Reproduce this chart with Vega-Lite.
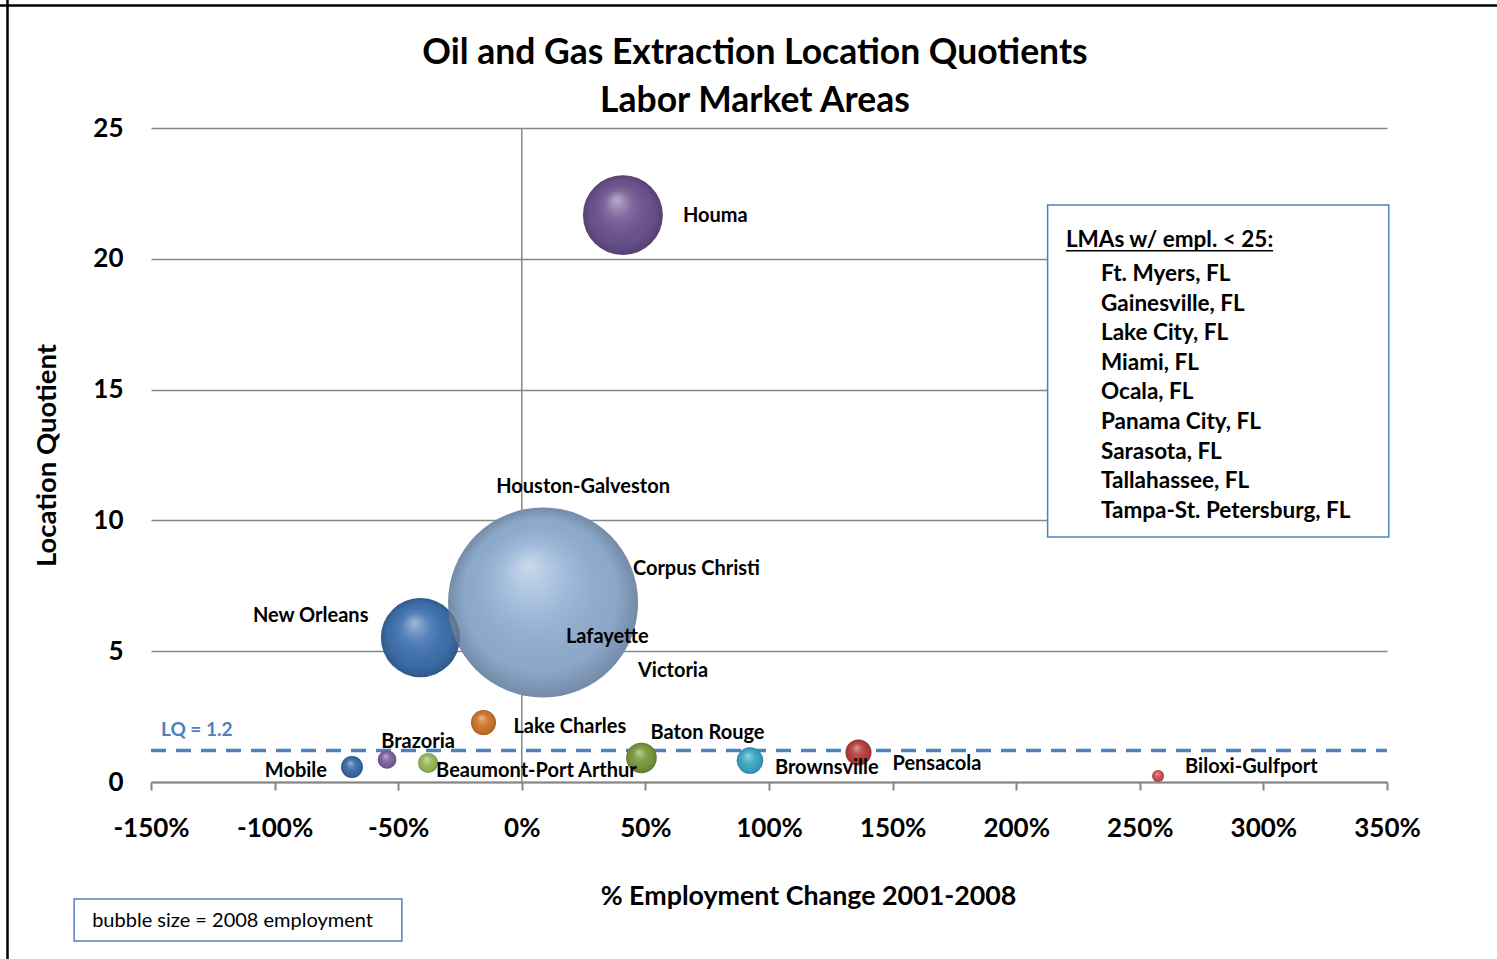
{
  "$schema": "https://vega.github.io/schema/vega-lite/v6.json",
  "width": 1236,
  "height": 654,
  "autosize": {"type": "none"},
  "padding": {"left": 151, "top": 128, "right": 110, "bottom": 177},
  "background": "white",
  "config": {
    "view": {"stroke": null},
    "font": "Lato"
  },
  "title": {
    "text": ["Oil and Gas Extraction Location Quotients", "Labor Market Areas"],
    "font": "Lato",
    "fontSize": 35.5,
    "fontWeight": "bold",
    "color": "#000000",
    "lineHeight": 48,
    "anchor": "middle",
    "dx": -14,
    "offset": -123.5
  },
  "datasets": {
    "lma": [
      {"name": "Corpus Christi", "pct": 40.9, "lq": 8.14, "emp": 60},
      {"name": "Lafayette", "pct": 13.8, "lq": 5.54, "emp": 60},
      {"name": "Victoria", "pct": 31.6, "lq": 4.47, "emp": 60},
      {"name": "New Orleans", "pct": -41.0, "lq": 5.52, "emp": 10400},
      {"name": "Houston-Galveston", "pct": 8.6, "lq": 6.86, "emp": 60000},
      {"name": "Houma", "pct": 40.9, "lq": 21.67, "emp": 10600},
      {"name": "Lake Charles", "pct": -15.5, "lq": 2.27, "emp": 1040},
      {"name": "Mobile", "pct": -68.7, "lq": 0.57, "emp": 800},
      {"name": "Brazoria", "pct": -54.5, "lq": 0.86, "emp": 575},
      {"name": "Beaumont-Port Arthur", "pct": -37.9, "lq": 0.73, "emp": 665},
      {"name": "Baton Rouge", "pct": 48.4, "lq": 0.92, "emp": 1555},
      {"name": "Brownsville", "pct": 92.3, "lq": 0.82, "emp": 1160},
      {"name": "Pensacola", "pct": 136.2, "lq": 1.13, "emp": 1120},
      {"name": "Biloxi-Gulfport", "pct": 257.4, "lq": 0.23, "emp": 240}
    ]
  },
  "layer": [
    {
      "data": {"values": [{}]},
      "mark": {"type": "rule", "color": "#000000", "strokeWidth": 2.5},
      "encoding": {
        "x": {"datum": -250, "scale": {"domain": [-150, 350]}},
        "x2": {"datum": 450},
        "y": {"datum": 29.68, "scale": {"domain": [0, 25]}}
      }
    },
    {
      "data": {"values": [{}]},
      "mark": {"type": "rule", "color": "#000000", "strokeWidth": 2.5},
      "encoding": {
        "x": {"datum": -208.05, "scale": {"domain": [-150, 350]}},
        "y": {"datum": 30, "scale": {"domain": [0, 25]}},
        "y2": {"datum": -8}
      }
    },
    {
      "data": {"values": [{}]},
      "mark": {"type": "rule", "color": "#868686", "strokeWidth": 1.5},
      "encoding": {
        "x": {"datum": 0, "scale": {"domain": [-150, 350]}},
        "y": {"datum": 0, "scale": {"domain": [0, 25]}},
        "y2": {"datum": 25}
      }
    },
    {
      "data": {"values": [{}]},
      "mark": {"type": "rect", "fill": "#ffffff", "stroke": "#4F81BD", "strokeWidth": 1.5},
      "encoding": {
        "x": {"datum": 212.7, "scale": {"domain": [-150, 350]}},
        "x2": {"datum": 350.7},
        "y": {"datum": 22.06, "scale": {"domain": [0, 25]}},
        "y2": {"datum": 9.37}
      }
    },
    {
      "data": {"values": [{}]},
      "mark": {"type": "text", "text": "LMAs w/ empl. < 25:", "align": "left", "baseline": "middle", "font": "Lato", "fontWeight": "bold", "fontSize": 22.5, "color": "#000000"},
      "encoding": {
        "x": {"datum": 220.1, "scale": {"domain": [-150, 350]}},
        "y": {"datum": 20.72, "scale": {"domain": [0, 25]}}
      }
    },
    {
      "data": {"values": [{}]},
      "mark": {"type": "rule", "color": "#000000", "strokeWidth": 1.5},
      "encoding": {
        "x": {"datum": 220.1, "scale": {"domain": [-150, 350]}},
        "x2": {"datum": 303.9},
        "y": {"datum": 20.31, "scale": {"domain": [0, 25]}}
      }
    },
    {
      "data": {"values": [{}]},
      "mark": {"type": "text", "text": ["Ft. Myers, FL", "Gainesville,  FL", "Lake City, FL", "Miami, FL", "Ocala, FL", "Panama City, FL", "Sarasota, FL", "Tallahassee,  FL", "Tampa-St. Petersburg, FL"], "lineHeight": 29.6, "align": "left", "baseline": "middle", "font": "Lato", "fontWeight": "bold", "fontSize": 22.5, "color": "#000000"},
      "encoding": {
        "x": {"datum": 234.3, "scale": {"domain": [-150, 350]}},
        "y": {"datum": 19.42, "scale": {"domain": [0, 25]}}
      }
    },
    {
      "data": {"values": [{}]},
      "mark": {"type": "rect", "fill": "#ffffff", "stroke": "#4F81BD", "strokeWidth": 1.5},
      "encoding": {
        "x": {"datum": -181.1, "scale": {"domain": [-150, 350]}},
        "x2": {"datum": -48.5},
        "y": {"datum": -4.47, "scale": {"domain": [0, 25]}},
        "y2": {"datum": -6.08}
      }
    },
    {
      "data": {"values": [{}]},
      "mark": {"type": "text", "text": "bubble size = 2008 employment", "align": "left", "baseline": "middle", "font": "Lato", "fontSize": 20, "color": "#000000"},
      "encoding": {
        "x": {"datum": -173.8, "scale": {"domain": [-150, 350]}},
        "y": {"datum": -5.31, "scale": {"domain": [0, 25]}}
      }
    },
    {
      "data": {"values": [{}]},
      "mark": {"type": "rule", "color": "#4F81BD", "strokeWidth": 3.5, "strokeDash": [15, 10]},
      "encoding": {
        "x": {"datum": -150, "scale": {"domain": [-150, 350]}},
        "x2": {"datum": 350},
        "y": {"datum": 1.2, "scale": {"domain": [0, 25]}}
      }
    },
    {
      "data": {"values": [{}]},
      "mark": {"type": "text", "text": "LQ = 1.2", "align": "left", "baseline": "middle", "dx": 10, "dy": -21, "font": "Lato", "fontWeight": "bold", "fontSize": 19, "color": "#4F81BD"},
      "encoding": {
        "x": {"datum": -150, "scale": {"domain": [-150, 350]}},
        "y": {"datum": 1.2, "scale": {"domain": [0, 25]}}
      }
    },
    {
      "data": {"name": "lma"},
      "encoding": {
        "x": {
          "field": "pct",
          "type": "quantitative",
          "scale": {"domain": [-150, 350]},
          "axis": {
            "values": [-150, -100, -50, 0, 50, 100, 150, 200, 250, 300, 350],
            "labelExpr": "datum.value + '%'",
            "grid": false,
            "domainColor": "#868686",
            "domainWidth": 2,
            "tickColor": "#868686",
            "tickWidth": 2,
            "tickSize": 8,
            "labelFont": "Lato",
            "labelFontWeight": "bold",
            "labelFontSize": 26,
            "labelColor": "#000000",
            "labelPadding": 25,
            "labelFlush": false,
            "labelOverlap": false,
            "title": "% Employment Change 2001-2008",
            "titleFont": "Lato",
            "titleFontSize": 26.8,
            "titleFontWeight": "bold",
            "titleColor": "#000000",
            "titleX": 657,
            "titleAlign": "center",
            "titlePadding": 42
          }
        },
        "y": {
          "field": "lq",
          "type": "quantitative",
          "scale": {"domain": [0, 25]},
          "axis": {
            "values": [0, 5, 10, 15, 20, 25],
            "grid": true,
            "gridColor": "#868686",
            "gridWidth": 1.5,
            "domain": false,
            "ticks": false,
            "tickSize": 0,
            "labelFont": "Lato",
            "labelFontWeight": "bold",
            "labelFontSize": 26,
            "labelColor": "#000000",
            "labelPadding": 28,
            "title": "Location Quotient",
            "titleFont": "Lato",
            "titleFontSize": 27.5,
            "titleFontWeight": "bold",
            "titleColor": "#000000",
            "titlePadding": 31
          }
        }
      },
      "layer": [
        {
          "mark": {"type": "circle", "opacity": 1, "stroke": null},
          "encoding": {
            "size": {"field": "emp", "type": "quantitative", "scale": {"type": "linear", "domain": [0, 60000], "range": [0, 36100], "zero": true}, "legend": null},
            "color": {
              "field": "name",
              "type": "nominal",
              "legend": null,
              "scale": {
                "domain": ["Corpus Christi", "Lafayette", "Victoria", "New Orleans", "Houston-Galveston", "Houma", "Lake Charles", "Mobile", "Brazoria", "Beaumont-Port Arthur", "Baton Rouge", "Brownsville", "Pensacola", "Biloxi-Gulfport"],
                "range": ["#9BBB59", "#C0504D", "#F79646", "#3F72B0", "#94B2D6", "#6E5490", "#D2782C", "#3A6DA8", "#8064A2", "#9BBB59", "#7B9A3D", "#3FAAC8", "#B8403C", "#D0504D"]
              }
            }
          }
        },
        {
          "transform": [{"filter": "datum.emp > 100"}],
          "mark": {
            "type": "circle",
            "opacity": 1,
            "stroke": null,
            "fill": {
              "gradient": "radial",
              "x1": 0.42, "y1": 0.3, "r1": 0,
              "x2": 0.5, "y2": 0.5, "r2": 0.5,
              "stops": [
                {"offset": 0, "color": "rgba(255,255,255,0.5)"},
                {"offset": 0.35, "color": "rgba(255,255,255,0.12)"},
                {"offset": 0.8, "color": "rgba(0,0,0,0.06)"},
                {"offset": 1, "color": "rgba(0,0,0,0.22)"}
              ]
            }
          },
          "encoding": {
            "size": {"field": "emp", "type": "quantitative", "scale": {"type": "linear", "domain": [0, 60000], "range": [0, 36100], "zero": true}, "legend": null}
          }
        },
        {"transform": [{"filter": "datum.name === 'Houma'"}], "mark": {"type": "text", "align": "left", "baseline": "middle", "dx": 60, "dy": 1, "font": "Lato", "fontWeight": "bold", "fontSize": 20, "color": "#000000"}, "encoding": {"text": {"field": "name"}}},
        {"transform": [{"filter": "datum.name === 'Houston-Galveston'"}], "mark": {"type": "text", "align": "center", "baseline": "middle", "dx": 40, "dy": -116, "font": "Lato", "fontWeight": "bold", "fontSize": 20, "color": "#000000"}, "encoding": {"text": {"field": "name"}}},
        {"transform": [{"filter": "datum.name === 'Corpus Christi' || datum.name === 'Lafayette'"}], "mark": {"type": "text", "align": "left", "baseline": "middle", "dx": 10, "dy": 0, "font": "Lato", "fontWeight": "bold", "fontSize": 20, "color": "#000000"}, "encoding": {"text": {"field": "name"}}},
        {"transform": [{"filter": "datum.name === 'Victoria'"}], "mark": {"type": "text", "align": "left", "baseline": "middle", "dx": 38, "dy": 6, "font": "Lato", "fontWeight": "bold", "fontSize": 20, "color": "#000000"}, "encoding": {"text": {"field": "name"}}},
        {"transform": [{"filter": "datum.name === 'New Orleans'"}], "mark": {"type": "text", "align": "right", "baseline": "middle", "dx": -52, "dy": -22, "font": "Lato", "fontWeight": "bold", "fontSize": 20, "color": "#000000"}, "encoding": {"text": {"field": "name"}}},
        {"transform": [{"filter": "datum.name === 'Lake Charles'"}], "mark": {"type": "text", "align": "left", "baseline": "middle", "dx": 30, "dy": 4, "font": "Lato", "fontWeight": "bold", "fontSize": 20, "color": "#000000"}, "encoding": {"text": {"field": "name"}}},
        {"transform": [{"filter": "datum.name === 'Mobile'"}], "mark": {"type": "text", "align": "right", "baseline": "middle", "dx": -25, "dy": 4, "font": "Lato", "fontWeight": "bold", "fontSize": 20, "color": "#000000"}, "encoding": {"text": {"field": "name"}}},
        {"transform": [{"filter": "datum.name === 'Brazoria'"}], "mark": {"type": "text", "align": "center", "baseline": "middle", "dx": 31, "dy": -18, "font": "Lato", "fontWeight": "bold", "fontSize": 20, "color": "#000000"}, "encoding": {"text": {"field": "name"}}},
        {"transform": [{"filter": "datum.name === 'Beaumont-Port Arthur'"}], "mark": {"type": "text", "align": "left", "baseline": "middle", "dx": 8, "dy": 8, "font": "Lato", "fontWeight": "bold", "fontSize": 20, "color": "#000000"}, "encoding": {"text": {"field": "name"}}},
        {"transform": [{"filter": "datum.name === 'Baton Rouge'"}], "mark": {"type": "text", "align": "left", "baseline": "middle", "dx": 9, "dy": -25, "font": "Lato", "fontWeight": "bold", "fontSize": 20, "color": "#000000"}, "encoding": {"text": {"field": "name"}}},
        {"transform": [{"filter": "datum.name === 'Brownsville'"}], "mark": {"type": "text", "align": "left", "baseline": "middle", "dx": 25, "dy": 7, "font": "Lato", "fontWeight": "bold", "fontSize": 20, "color": "#000000"}, "encoding": {"text": {"field": "name"}}},
        {"transform": [{"filter": "datum.name === 'Pensacola'"}], "mark": {"type": "text", "align": "left", "baseline": "middle", "dx": 34, "dy": 12, "font": "Lato", "fontWeight": "bold", "fontSize": 20, "color": "#000000"}, "encoding": {"text": {"field": "name"}}},
        {"transform": [{"filter": "datum.name === 'Biloxi-Gulfport'"}], "mark": {"type": "text", "align": "left", "baseline": "middle", "dx": 27, "dy": -9, "font": "Lato", "fontWeight": "bold", "fontSize": 20, "color": "#000000"}, "encoding": {"text": {"field": "name"}}}
      ]
    }
  ]
}
